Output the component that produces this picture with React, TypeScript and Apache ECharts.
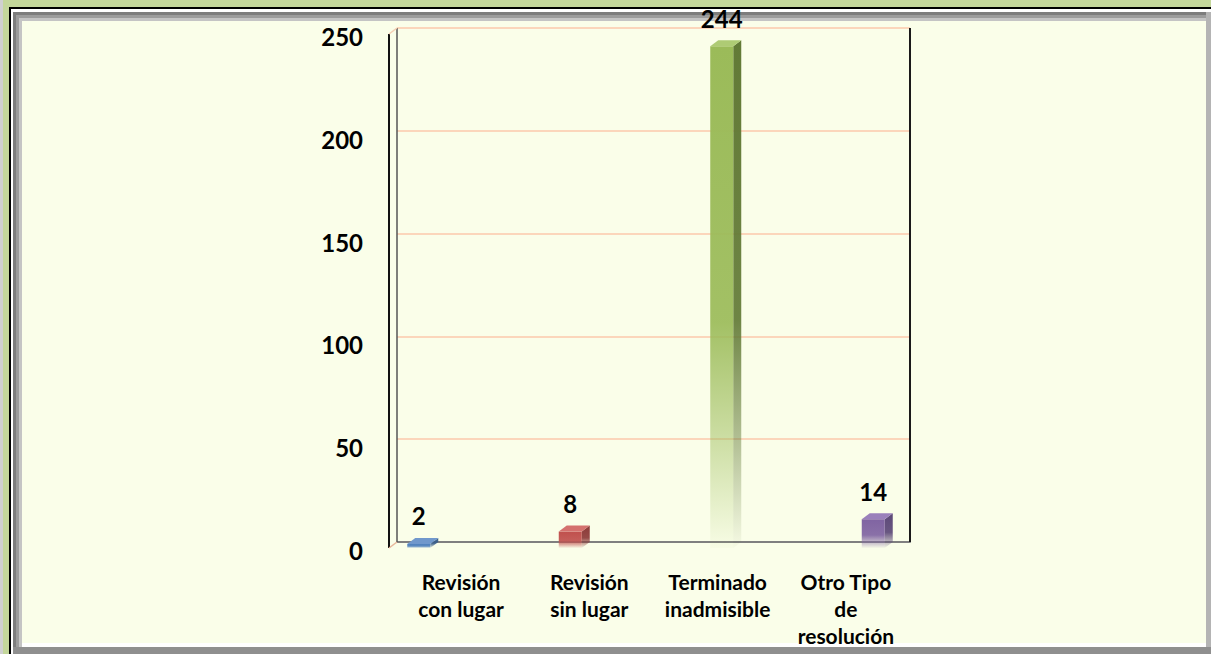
import React, { useEffect, useRef } from "react";
import * as echarts from "echarts";

const categories = [
  "Revisión\ncon lugar",
  "Revisión\nsin lugar",
  "Terminado\ninadmisible",
  "Otro Tipo\nde\nresolución",
];
const values = [2, 8, 244, 14];
const yTicks = [0, 50, 100, 150, 200, 250];

const frontColors = ["#4f81bd", "#c0504d", "#9bbb59", "#8064a2"];
const sideColors = ["#385d8a", "#8c3a38", "#627a36", "#5c4878"];
const topColors = ["#7098cc", "#d4716e", "#aecb74", "#9a80bb"];

const W = 1211;
const H = 654;
const GL = 397;
const GR = 910;
const GT = 28;
const GB = 542;
const DX = 8;
const DY = 6;
const FONT = "Lato, 'Open Sans', sans-serif";

function rgba(hex: string, a: number) {
  const n = parseInt(hex.slice(1), 16);
  return `rgba(${(n >> 16) & 255},${(n >> 8) & 255},${n & 255},${a})`;
}

function fade(hex: string) {
  return new echarts.graphic.LinearGradient(0, 0, 0, 1, [
    { offset: 0, color: rgba(hex, 1) },
    { offset: 0.55, color: rgba(hex, 0.92) },
    { offset: 0.8, color: rgba(hex, 0.45) },
    { offset: 1, color: rgba(hex, 0.03) },
  ]);
}

export default function App() {
  const ref = useRef<HTMLDivElement>(null);
  useEffect(() => {
    if (!ref.current) return;
    const chart = echarts.init(ref.current, undefined, { renderer: "svg" });
    const barGridW = 151.5 * categories.length;
    const barGridL = 418.75 - 151.5 / 2;
    chart.setOption({
      animation: false,
      backgroundColor: "transparent",
      grid: [
        { left: GL, top: GT, width: GR - GL, height: GB - GT },
        { left: barGridL, top: GT, width: barGridW, height: GB - GT },
      ],
      xAxis: [
        {
          type: "category",
          gridIndex: 0,
          data: categories,
          axisTick: { show: false },
          axisLine: { show: true, lineStyle: { color: "#7f7f7f", width: 2 } },
          axisLabel: {
            interval: 0,
            margin: 26,
            color: "#000",
            fontFamily: FONT,
            fontWeight: "bold",
            fontSize: 21,
            lineHeight: 27,
            align: "center",
          },
        },
        {
          type: "category",
          gridIndex: 1,
          data: categories,
          show: false,
        },
      ],
      yAxis: [
        {
          type: "value",
          gridIndex: 0,
          min: 0,
          max: 250,
          interval: 50,
          axisLine: { show: false },
          axisTick: { show: false },
          splitLine: { show: true, lineStyle: { color: "#fbd6bb", width: 2 } },
          axisLabel: {
            margin: 34,
            color: "#000",
            fontFamily: FONT,
            fontWeight: "bold",
            fontSize: 24,
            verticalAlign: "top",
            lineHeight: 17,
            formatter: (v: number) => (yTicks.includes(v) ? String(v) : ""),
          },
        },
        {
          type: "value",
          gridIndex: 1,
          min: 0,
          max: 250,
          interval: 50,
          show: false,
        },
      ],
      graphic: [
        { type: "line", z: 100, shape: { x1: GR, y1: GT, x2: GR, y2: GB }, style: { stroke: "#1a1a1a", lineWidth: 2 } },
        { type: "line", z: 100, shape: { x1: GL, y1: GT, x2: GL, y2: GB }, style: { stroke: "#555", lineWidth: 1.5 } },
        { type: "line", z: 100, shape: { x1: GL - DX, y1: GT + DY, x2: GL - DX, y2: GB + DY }, style: { stroke: "#111", lineWidth: 2 } },
        { type: "line", z: 100, shape: { x1: GL - DX, y1: GT + DY, x2: GL, y2: GT }, style: { stroke: "#f5cfb4", lineWidth: 1.5 } },
        { type: "line", z: 100, shape: { x1: GL - DX, y1: GB + DY, x2: GL, y2: GB }, style: { stroke: "#e8b79a", lineWidth: 1.5 } },
      ],
      series: [
        {
          type: "custom",
          xAxisIndex: 1,
          yAxisIndex: 1,
          z: 5,
          data: values.map((v, i) => [i, v]),
          renderItem: (params: any, api: any) => {
            const i = api.value(0);
            const v = api.value(1);
            const p = api.coord([i, v]);
            const b = api.coord([i, 0]);
            const x0 = p[0] - 11.5;
            const x1 = p[0] + 11.5;
            const yT = p[1] + DY;
            const yB = b[1] + DY;
            return {
              type: "group",
              children: [
                {
                  type: "polygon",
                  shape: {
                    points: [
                      [x1, yT],
                      [x1 + DX, yT - DY],
                      [x1 + DX, yB - DY],
                      [x1, yB],
                    ],
                  },
                  style: { fill: fade(sideColors[i]) },
                },
                {
                  type: "rect",
                  shape: { x: x0, y: yT, width: x1 - x0, height: Math.max(yB - yT, 0.5) },
                  style: { fill: fade(frontColors[i]) },
                },
                {
                  type: "polygon",
                  shape: {
                    points: [
                      [x0, yT],
                      [x0 + DX, yT - DY],
                      [x1 + DX, yT - DY],
                      [x1, yT],
                    ],
                  },
                  style: { fill: topColors[i] },
                },
                {
                  type: "text",
                  style: {
                    x: p[0],
                    y: p[1] - 10,
                    text: String(v),
                    align: "center",
                    verticalAlign: "bottom",
                    fill: "#000",
                    font: `bold 24px ${FONT}`,
                  },
                },
              ],
            };
          },
        },
      ],
    });
    return () => chart.dispose();
  }, []);

  const layer = (l: number, t: number, r: number, b: number, bg: string): React.CSSProperties => ({
    position: "absolute",
    left: l,
    top: t,
    width: r - l,
    height: b - t,
    background: bg,
  });

  return (
    <div style={{ position: "fixed", left: 0, top: 0, width: W, height: H, background: "#c4d79b", overflow: "hidden" }}>
      <div style={layer(0, 0, 3, H, "#d0d0d0")} />
      <div style={layer(9, 7, W + 5, H + 5, "#000")} />
      <div style={layer(11, 9, W + 5, H + 5, "#ffffff")} />
      <div style={layer(13, 12, W + 5, H + 5, "#7d7d7d")} />
      <div style={layer(16, 15, W + 5, H + 5, "#9c9c9c")} />
      <div style={layer(19, 18, W + 5, H + 5, "#c4c4c4")} />
      <div style={layer(13, 647, W, H, "#8f8f8f")} />
      <div style={layer(1206, 12, W, 647, "#b4b4b4")} />
      <div style={layer(22, 21, 1206, 647, "#ffffff")} />
      <div style={layer(22, 21, 1206, 643, "#fafee9")} />
      <div ref={ref} style={{ position: "absolute", left: 0, top: 0, width: W, height: H }} />
    </div>
  );
}
